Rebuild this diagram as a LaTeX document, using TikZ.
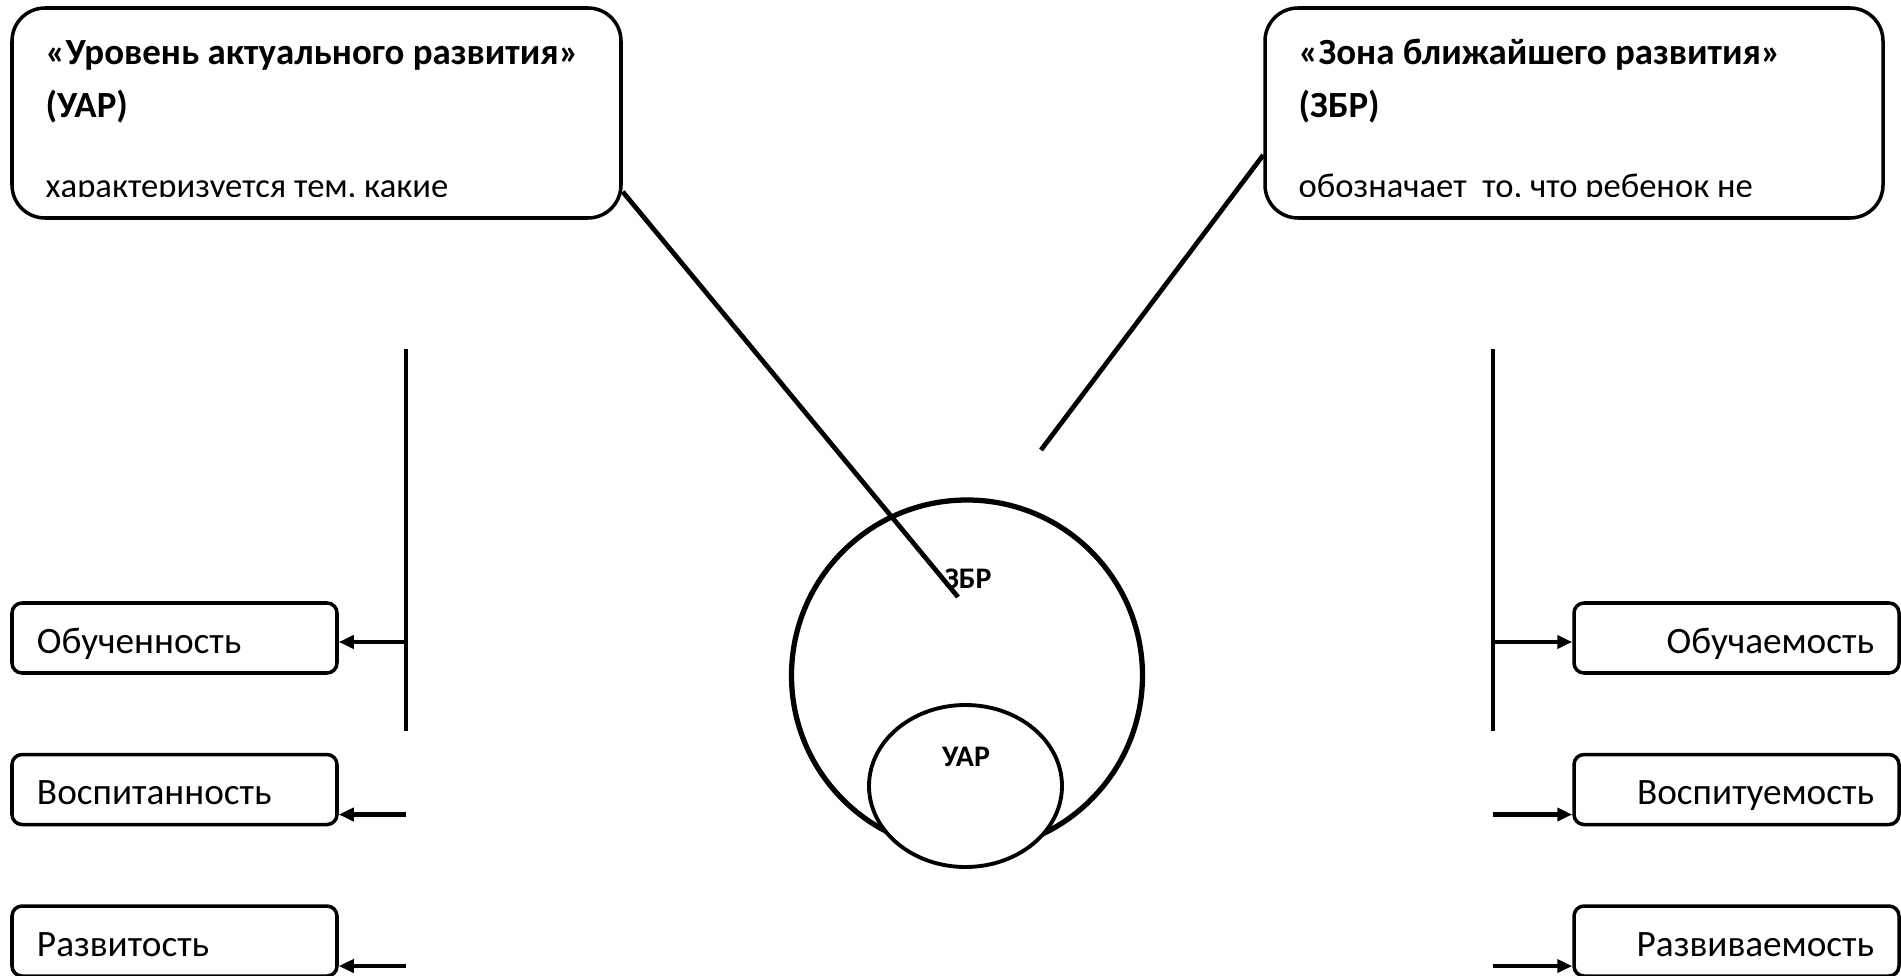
\documentclass[tikz,border=0pt]{standalone}
\usepackage{fontspec}
\setmainfont{Carlito}
\usepackage{tikz}
\usetikzlibrary{arrows.meta,positioning,shapes.geometric,calc}
\tikzset{
  bar/.style={line width=1.2pt, draw=black},
  pointer/.style={line width=1.35pt, draw=black},
  arr/.style={-{Triangle[length=1.5mm,width=1.3mm]}, line width=1.2pt, draw=black},
  topbox/.style={draw, line width=1.0pt, rounded corners=3.3mm, minimum height=2.10cm, inner sep=0pt},
  itembox/.style={draw, line width=1.0pt, rounded corners=1mm, minimum height=0.70cm,
                  inner xsep=0.25cm, inner ysep=0pt, text width=2.75cm,
                  text height=0.30cm, text depth=0cm,
                  font=\fontsize{10.6}{12}\selectfont},
  titletext/.style={anchor=base west, inner sep=0pt, font=\bfseries\fontsize{10.5}{12}\selectfont},
  bodytext/.style={anchor=base west, inner sep=0pt, font=\fontsize{9.85}{12}\selectfont},
  zonelabel/.style={inner sep=0pt, font=\bfseries\fontsize{8.5}{10}\selectfont}
}

\begin{document}
\begin{tikzpicture}[node distance=0.78cm]
  \useasboundingbox (0,0) rectangle (19.01,-9.76);

  % top boxes
  \node[topbox, minimum width=6.09cm] (uarbox) at (3.165,-1.13) {};
  \node[topbox, minimum width=6.18cm] (zbrbox) at (15.74,-1.13) {};
  \begin{scope}
    \clip (0,0) rectangle (19.01,-1.965);
    \node[titletext] (uartitle) at (0.45,-0.65) {«Уровень актуального развития»};
    \node[titletext] (uarshort) at (0.45,-1.18) {(УАР)};
    \node[bodytext] (uartext) at (0.45,-1.98) {характеризуется тем, какие};
    \node[titletext] (zbrtitle) at (12.98,-0.65) {«Зона ближайшего развития»};
    \node[titletext] (zbrshort) at (12.98,-1.18) {(ЗБР)};
    \node[bodytext] (zbrtext) at (12.98,-1.98) {обозначает\ \ то, что ребенок не};
  \end{scope}

  % circles
  \node[circle, draw, line width=1.5pt, minimum size=3.51cm] (zbrcircle) at (9.67,-6.755) {};
  \node[ellipse, draw, fill=white, line width=1.1pt, minimum width=1.93cm, minimum height=1.62cm] (uarellipse) at (9.655,-7.86) {};
  \node[zonelabel] (zbrlabel) at (9.68,-5.79) {ЗБР};
  \node[zonelabel] (uarlabel) at (9.66,-7.57) {УАР};

  \coordinate (uarend) at (9.58,-5.97);
  \coordinate (zbrend) at (10.41,-4.50);
  \draw[pointer] ([yshift=0.28cm]uarbox.south east) -- (uarend);
  \draw[pointer] ([yshift=-0.42cm]zbrbox.west) -- (zbrend);

  % left side
  \node[itembox, align=left] (obuch) at (1.745,-6.38) {Обученность};
  \node[itembox, align=left, below=of obuch] (vospit) {Воспитанность};
  \node[itembox, align=left, below=of vospit] (razvit) {Развитость};
  \coordinate (lbartop) at (4.06,-3.49);
  \coordinate (lbarbot) at (4.06,-7.31);
  \draw[bar] (lbartop) -- (lbarbot);
  \draw[arr] ([yshift=-0.04cm]obuch.east -| lbartop) -- ([yshift=-0.04cm]obuch.east);
  \draw[arr] ([yshift=-0.25cm]vospit.east -| lbartop) -- ([yshift=-0.25cm]vospit.east);
  \draw[arr] ([yshift=-0.25cm]razvit.east -| lbartop) -- ([yshift=-0.25cm]razvit.east);

  % right side
  \node[itembox, align=right] (obuchaem) at (17.365,-6.38) {Обучаемость};
  \node[itembox, align=right, below=of obuchaem] (vospituem) {Воспитуемость};
  \node[itembox, align=right, below=of vospituem] (razvivaem) {Развиваемость};
  \coordinate (rbartop) at (14.93,-3.49);
  \coordinate (rbarbot) at (14.93,-7.31);
  \draw[bar] (rbartop) -- (rbarbot);
  \draw[arr] ([yshift=-0.04cm]obuchaem.west -| rbartop) -- ([yshift=-0.04cm]obuchaem.west);
  \draw[arr] ([yshift=-0.25cm]vospituem.west -| rbartop) -- ([yshift=-0.25cm]vospituem.west);
  \draw[arr] ([yshift=-0.25cm]razvivaem.west -| rbartop) -- ([yshift=-0.25cm]razvivaem.west);
\end{tikzpicture}
\end{document}
